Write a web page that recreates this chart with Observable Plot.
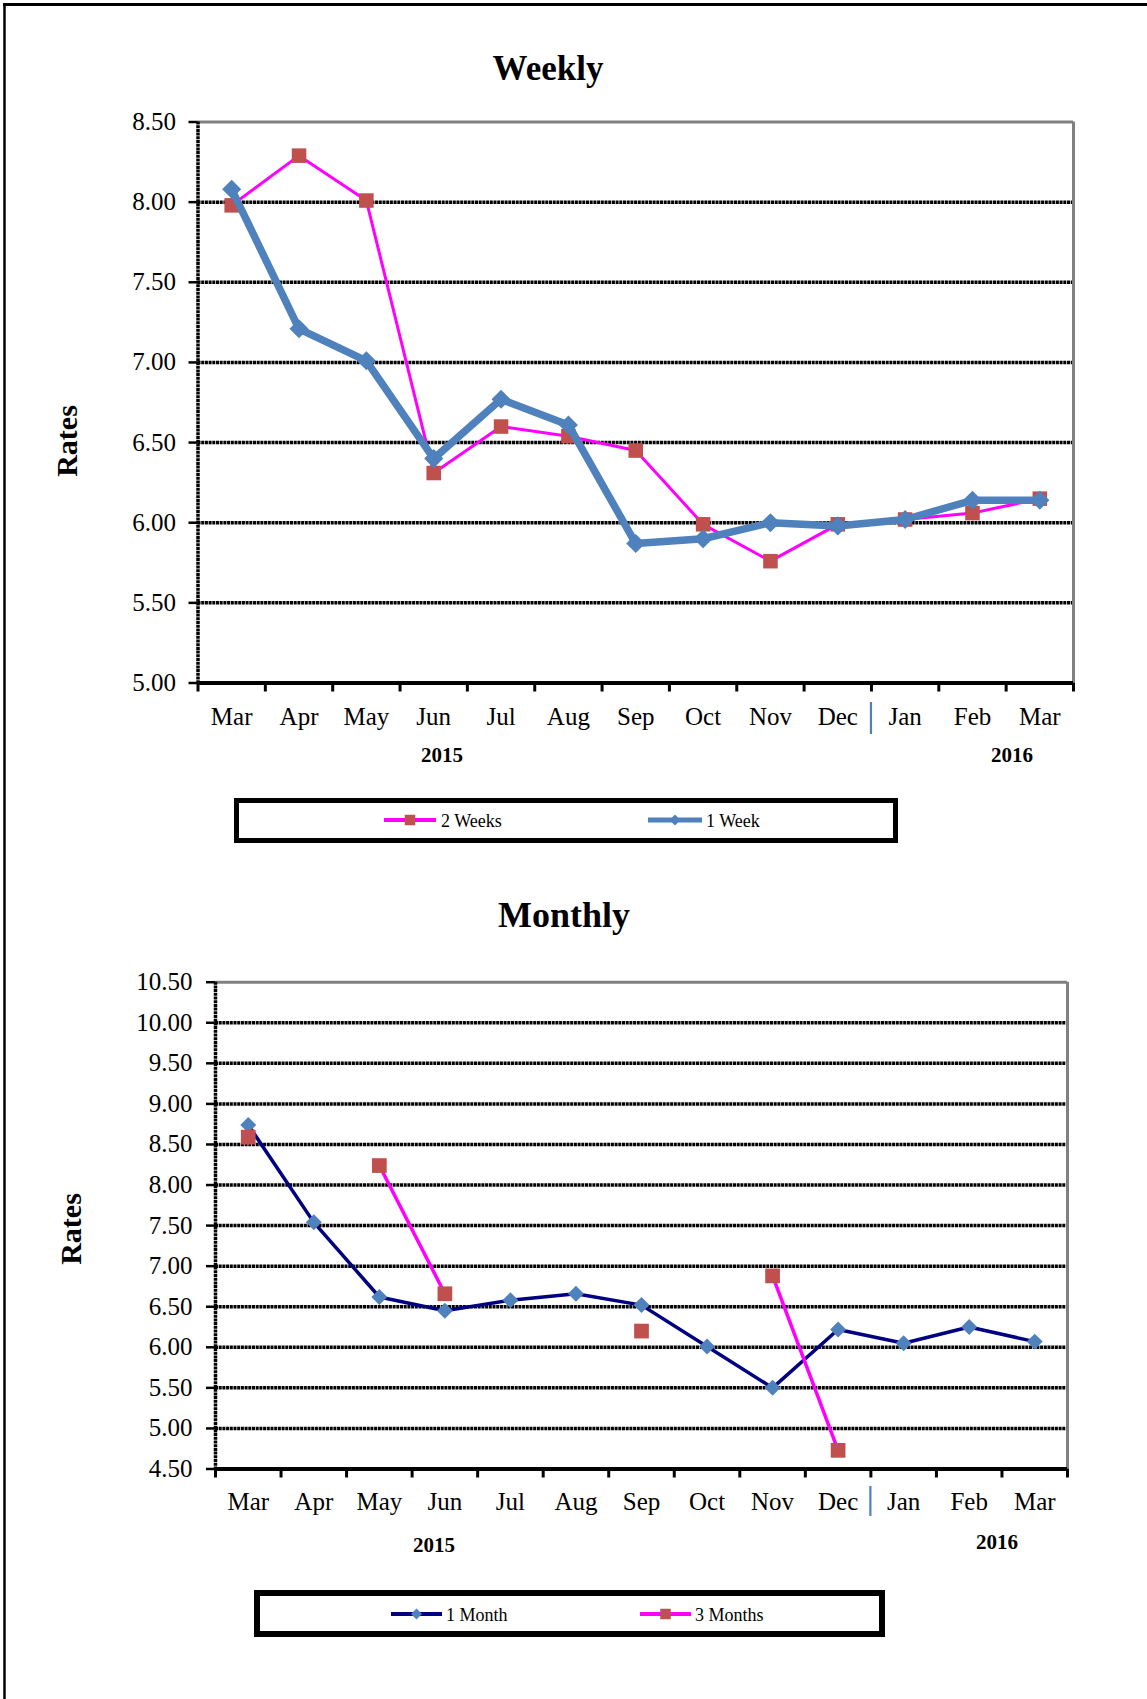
<!DOCTYPE html>
<html>
<head>
<meta charset="utf-8">
<script src="https://cdn.jsdelivr.net/npm/d3@7"></script>
<script src="https://cdn.jsdelivr.net/npm/@observablehq/plot@0.6"></script>
<style>
  html, body { margin: 0; padding: 0; background: #fff; }
  body { width: 1147px; height: 1699px; overflow: hidden; position: relative; }
</style>
</head>
<body>
<script>
// ---------- data ----------
const months = ["Mar","Apr","May","Jun","Jul","Aug","Sep","Oct","Nov","Dec","Jan","Feb","Mar"];
const yearLabels = ["2015", "2016"];

const weeklyTicks = [5.00, 5.50, 6.00, 6.50, 7.00, 7.50, 8.00, 8.50];
const twoWeeks = [7.98, 8.29, 8.01, 6.31, 6.60, 6.54, 6.45, 5.99, 5.76, 5.99, 6.02, 6.06, 6.15];
const oneWeek  = [8.08, 7.21, 7.01, 6.40, 6.77, 6.61, 5.87, 5.90, 6.00, 5.98, 6.02, 6.14, 6.14];

const monthlyTicks = [4.50, 5.00, 5.50, 6.00, 6.50, 7.00, 7.50, 8.00, 8.50, 9.00, 9.50, 10.00, 10.50];
const oneMonth    = [8.74, 7.54, 6.62, 6.45, 6.58, 6.66, 6.52, 6.01, 5.50, 6.22, 6.05, 6.25, 6.07];
const threeMonths = [8.59, null, 8.24, 6.66, null, null, 6.20, null, 6.88, 4.73, null, null, null];

// ---------- helpers ----------
const W = 1147, H = 1699;
const FONT = '"Liberation Serif", "Times New Roman", serif';
const rows = vals => months.map((m, i) => ({i, month: m, v: vals[i]}));

function makeChart({svgTop, height, mTop, mBottom, mLeft, mRight, yDomain, yTicks, yPad, xPad, layers}) {
  const grid = yTicks.filter(t => t > yDomain[0] && t < yDomain[1]);
  const bounds = d3.range(14).map(k => k - 0.5);
  const chart = Plot.plot({
    width: W, height,
    marginTop: mTop, marginBottom: mBottom, marginLeft: mLeft, marginRight: mRight,
    style: {fontFamily: FONT, fontSize: "25px", color: "#000", background: "transparent", overflow: "visible"},
    x: {type: "linear", domain: [-0.5, 12.5], label: null},
    y: {type: "linear", domain: yDomain, label: null},
    marks: [
      Plot.ruleY(grid, {stroke: "#000", strokeWidth: 3.5, strokeDasharray: "3,0.7"}),
      Plot.ruleY([yDomain[1]], {stroke: "#808080", strokeWidth: 3}),
      Plot.ruleX([12.5], {stroke: "#808080", strokeWidth: 3}),
      Plot.ruleX([-0.5], {stroke: "#000", strokeWidth: 3.5, strokeDasharray: "3,0.7"}),
      Plot.ruleY([yDomain[0]], {stroke: "#000", strokeWidth: 4}),
      Plot.axisY({ticks: yTicks, tickSize: 9, tickPadding: yPad, strokeWidth: 2.5,
                  tickFormat: d => d.toFixed(2), fontSize: 25, label: null}),
      Plot.axisX({ticks: bounds, tickSize: 9, strokeWidth: 3, tickFormat: () => "", label: null}),
      Plot.axisX({ticks: d3.range(13), tickSize: 0, tickPadding: xPad,
                  tickFormat: i => months[i], fontSize: 25, label: null}),
      ...layers
    ]
  });
  chart.style.position = "absolute";
  chart.style.left = "0px";
  chart.style.top = svgTop + "px";
  document.body.appendChild(chart);
  return chart;
}

// ---------- Weekly ----------
const weekly = makeChart({
  svgTop: 0, height: 745, mTop: 121.5, mBottom: 62.5, mLeft: 197.5, mRight: 74,
  yDomain: [5, 8.5], yTicks: weeklyTicks, yPad: 13, xPad: 24,
  layers: [
    Plot.line(rows(twoWeeks), {x: "i", y: "v", stroke: "#FF00FF", strokeWidth: 3}),
    Plot.dot(rows(twoWeeks), {x: "i", y: "v", symbol: "square", r: 8.2, fill: "#C0504D"}),
    Plot.line(rows(oneWeek), {x: "i", y: "v", stroke: "#4F81BD", strokeWidth: 7.5, strokeLinejoin: "round"}),
    Plot.dot(rows(oneWeek), {x: "i", y: "v", symbol: "diamond2", r: 8.6, fill: "#4F81BD"})
  ]
});

// ---------- Monthly ----------
const monthly = makeChart({
  svgTop: 880, height: 650, mTop: 101.7, mBottom: 61.5, mLeft: 215, mRight: 80,
  yDomain: [4.5, 10.5], yTicks: monthlyTicks, yPad: 14, xPad: 23,
  layers: [
    Plot.line(rows(oneMonth), {x: "i", y: "v", stroke: "#000080", strokeWidth: 3.5}),
    Plot.dot(rows(oneMonth), {x: "i", y: "v", symbol: "diamond2", r: 7.2, fill: "#4F81BD"}),
    Plot.line(rows(threeMonths), {x: "i", y: "v", stroke: "#FF00FF", strokeWidth: 3.5}),
    Plot.dot(rows(threeMonths), {x: "i", y: "v", symbol: "square", r: 8.3, fill: "#C0504D"})
  ]
});

// ---------- overlay: frame, titles, labels, legends ----------
const ov = d3.select("body").append("svg")
  .attr("width", W).attr("height", H)
  .style("position", "absolute").style("left", "0px").style("top", "0px")
  .style("font-family", FONT);

// page frame (top and left)
ov.append("line").attr("x1", 3).attr("x2", W).attr("y1", 4.6).attr("y2", 4.6).attr("stroke", "#000").attr("stroke-width", 3);
ov.append("line").attr("x1", 4.5).attr("x2", 4.5).attr("y1", 3).attr("y2", H).attr("stroke", "#000").attr("stroke-width", 2.5);

function text(x, y, s, size, weight, anchor = "middle", rotate = 0) {
  const t = ov.append("text").attr("x", x).attr("y", y).text(s)
    .attr("font-size", size).attr("font-weight", weight).attr("text-anchor", anchor).attr("fill", "#000");
  if (rotate) t.attr("transform", `rotate(${rotate},${x},${y})`);
  return t;
}

// titles
text(548, 80, "Weekly", 35, "bold");
text(564, 927, "Monthly", 36, "bold");

// y-axis titles
text(77, 441, "Rates", 30, "bold", "middle", -90);
text(81, 1229, "Rates", 30, "bold", "middle", -90);

// year labels
text(442, 762, yearLabels[0], 21, "bold");
text(1012, 762, yearLabels[1], 21, "bold");
text(434, 1552, yearLabels[0], 21, "bold");
text(997, 1549, yearLabels[1], 21, "bold");

// year separators (between Dec and Jan)
const sepW = weekly.scale("x").apply(9.5);
const sepM = monthly.scale("x").apply(9.5);
ov.append("line").attr("x1", sepW).attr("x2", sepW).attr("y1", 702).attr("y2", 734).attr("stroke", "#4F81BD").attr("stroke-width", 2.2);
ov.append("line").attr("x1", sepM).attr("x2", sepM).attr("y1", 1486).attr("y2", 1516).attr("stroke", "#4F81BD").attr("stroke-width", 2.2);

// legends
function legendBox(x0, y0, x1, y1, bw) {
  ov.append("rect").attr("x", x0 + bw / 2).attr("y", y0 + bw / 2)
    .attr("width", x1 - x0 - bw).attr("height", y1 - y0 - bw)
    .attr("fill", "#fff").attr("stroke", "#000").attr("stroke-width", bw);
}
function swatch(xa, xb, y, lineColor, lw, kind, mColor, ms) {
  ov.append("line").attr("x1", xa).attr("x2", xb).attr("y1", y).attr("y2", y)
    .attr("stroke", lineColor).attr("stroke-width", lw);
  const cx = (xa + xb) / 2;
  if (kind === "square") {
    ov.append("rect").attr("x", cx - ms / 2).attr("y", y - ms / 2).attr("width", ms).attr("height", ms).attr("fill", mColor);
  } else {
    const r = ms / 2;
    ov.append("path").attr("d", `M${cx},${y - r}L${cx + r},${y}L${cx},${y + r}L${cx - r},${y}Z`).attr("fill", mColor);
  }
}

legendBox(234, 798, 898, 843, 5);
swatch(384, 436, 820, "#FF00FF", 4, "square", "#C0504D", 10.5);
text(441, 826.5, "2 Weeks", 18, "normal", "start");
swatch(648, 702, 820, "#4F81BD", 5, "diamond", "#4F81BD", 11);
text(706, 826.5, "1 Week", 18, "normal", "start");

legendBox(254, 1590, 885, 1637, 6);
swatch(391, 442, 1614, "#000080", 4, "diamond", "#4F81BD", 11);
text(446, 1620.5, "1 Month", 18, "normal", "start");
swatch(640, 691, 1614, "#FF00FF", 4, "square", "#C0504D", 10.5);
text(695, 1620.5, "3 Months", 18, "normal", "start");
</script>
</body>
</html>
